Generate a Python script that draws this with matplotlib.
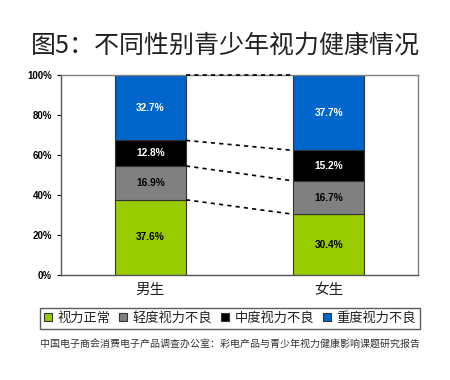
import matplotlib.pyplot as plt
import numpy as np

plt.rcParams['font.family'] = ['Noto Sans CJK SC', 'DejaVu Sans']

groups = ['男生', '女生']
series = ['视力正常', '轻度视力不良', '中度视力不良', '重度视力不良']
values = [
    [37.6, 30.4],   # 视力正常
    [16.9, 16.7],   # 轻度视力不良
    [12.8, 15.2],   # 中度视力不良
    [32.7, 37.7],   # 重度视力不良
]
colors = ['#99CC00', '#808080', '#000000', '#0066CC']
text_colors = ['black', 'black', 'white', 'white']

fig = plt.figure(figsize=(4.5, 3.8), dpi=100)
ax = fig.add_axes([0.1356, 0.2763, 0.7934, 0.5263])

x = np.arange(len(groups))
w = 0.4
bottom = np.zeros(len(groups))
for vals, c, tc, name in zip(values, colors, text_colors, series):
    vals = np.array(vals)
    ax.bar(x, vals, w, bottom=bottom, color=c, edgecolor='#333333', linewidth=0.8, label=name)
    for xi, b, v in zip(x, bottom, vals):
        ax.text(xi, b + v / 2, f'{v:.1f}%', ha='center', va='center', color=tc,
                fontsize=7.3, fontweight='bold', family='Liberation Sans')
    bottom = bottom + vals
    # dashed connector between the two bars
    ax.plot([x[0] + w / 2, x[1] - w / 2], [bottom[0], bottom[1]], color='black',
            linestyle=(0, (2.5, 2.5)), linewidth=1.2, zorder=5, clip_on=False)

ax.set_xlim(-0.5, 1.5)
ax.set_ylim(0, 100)
ax.set_yticks(np.arange(0, 101, 20))
ax.set_yticklabels([f'{t}%' for t in range(0, 101, 20)], fontsize=7, fontweight='bold',
                   family='Liberation Sans')
ax.set_xticks(x)
ax.set_xticklabels(groups, fontsize=10.5, color='#222222')
ax.tick_params(axis='x', length=0, pad=6)
ax.tick_params(axis='y', length=3, direction='out', width=0.8)
for s in ax.spines.values():
    s.set_color('#808080')
    s.set_linewidth(1.0)
ax.spines['left'].set_color('#555555')
ax.spines['bottom'].set_color('#555555')

fig.text(0.5, 0.88, '图5：不同性别青少年视力健康情况', ha='center', va='center', fontsize=18,
         color='#222222')

leg = fig.legend(loc='center', bbox_to_anchor=(0.511, 0.163), ncol=4, fontsize=9.5,
                 frameon=True, fancybox=False, handlelength=0.6, handleheight=0.6,
                 handletextpad=0.4, columnspacing=0.7, borderpad=0.3)
leg.get_frame().set_edgecolor('#333333')
leg.get_frame().set_linewidth(1.0)
for t in leg.get_texts():
    t.set_color('#222222')

fig.text(0.511, 0.092, '中国电子商会消费电子产品调查办公室：彩电产品与青少年视力健康影响课题研究报告',
         ha='center', va='center', fontsize=7.2, color='#333333')

fig.savefig('out.png', dpi=100)
